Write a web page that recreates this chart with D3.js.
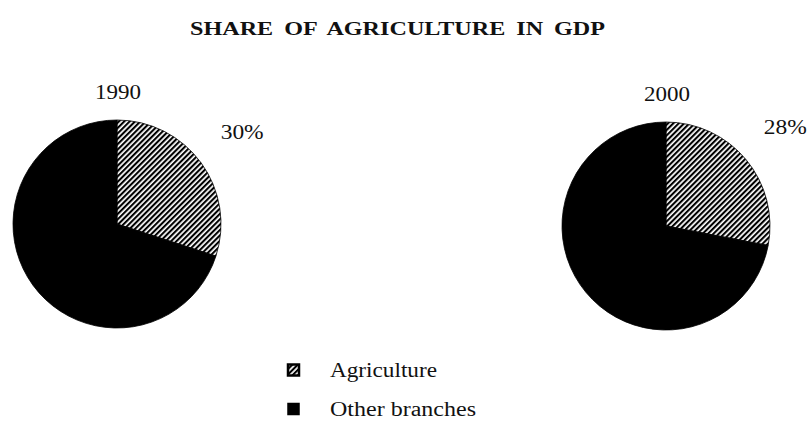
<!DOCTYPE html>
<html>
<head>
<meta charset="utf-8">
<script src="https://cdn.jsdelivr.net/npm/d3@7"></script>
<style>
  body { margin: 0; background: #fff; }
  text { font-family: "Liberation Serif", "DejaVu Serif", serif; fill: #111; }
</style>
</head>
<body>
<svg id="chart" width="807" height="421"></svg>
<script>
'use strict';

// chart data
const years = ["1990", "2000"];
const agricultureShare = [30, 28];
const otherShare = [70, 72];
const categories = ["Agriculture", "Other branches"];
const chartTitle = "SHARE OF AGRICULTURE IN GDP";

const svg = d3.select("#chart");

// hatch pattern for agriculture slices
const defs = svg.append("defs");
const hatch = defs.append("pattern")
    .attr("id", "hatch")
    .attr("patternUnits", "userSpaceOnUse")
    .attr("width", 3.8)
    .attr("height", 3.8)
    .attr("patternTransform", "rotate(45)");
hatch.append("rect").attr("width", 3.8).attr("height", 3.8).attr("fill", "#fff");
hatch.append("rect").attr("width", 2.1).attr("height", 3.8).attr("fill", "#000");

const fills = ["url(#hatch)", "#000"];

// title
svg.append("text")
    .attr("x", 190)
    .attr("y", 35)
    .attr("font-size", 19.5)
    .attr("font-weight", "bold")
    .attr("word-spacing", 4)
    .attr("textLength", 415)
    .attr("lengthAdjust", "spacingAndGlyphs")
    .text(chartTitle);

// x position of each pie via a point scale
const xScale = d3.scalePoint()
    .domain(years)
    .range([117, 666]);

const radius = 104;
const pie = d3.pie().sort(null).value(d => d.value);
const arc = d3.arc().innerRadius(0).outerRadius(radius);
const labelArc = d3.arc().innerRadius(151).outerRadius(151);

years.forEach((year, i) => {
    const cx = xScale(year);
    const cy = 224 + i * 2;
    const slices = pie([
        { key: categories[0], value: agricultureShare[i] },
        { key: categories[1], value: otherShare[i] }
    ]);

    const g = svg.append("g").attr("transform", `translate(${cx},${cy})`);

    g.selectAll("path")
        .data(slices)
        .enter()
        .append("path")
        .attr("d", arc)
        .attr("fill", (d, j) => fills[j])
        .attr("stroke", "#000")
        .attr("stroke-width", 0.8);

    // year label above
    g.append("text")
        .attr("x", 1)
        .attr("y", -radius - 21)
        .attr("text-anchor", "middle")
        .attr("font-size", 20)
        .attr("textLength", 46)
        .attr("lengthAdjust", "spacingAndGlyphs")
        .text(year);

    // percentage label for agriculture slice
    const c = labelArc.centroid(slices[0]);
    g.append("text")
        .attr("x", c[0] + 3)
        .attr("y", c[1] + 4)
        .attr("text-anchor", "middle")
        .attr("font-size", 20)
        .attr("textLength", 43)
        .attr("lengthAdjust", "spacingAndGlyphs")
        .text(agricultureShare[i] + "%");
});

// legend
const legendY = d3.scalePoint()
    .domain(categories)
    .range([370, 409]);
const legendTextWidth = d3.scaleOrdinal()
    .domain(categories)
    .range([107, 146]);

const legend = svg.append("g");
categories.forEach((cat, j) => {
    const y = legendY(cat);
    legend.append("rect")
        .attr("x", 288)
        .attr("y", y - 5.5)
        .attr("width", 11)
        .attr("height", 11)
        .attr("fill", fills[j])
        .attr("stroke", "#000")
        .attr("stroke-width", j === 0 ? 2.5 : 1.5);
    legend.append("text")
        .attr("x", 330)
        .attr("y", y + 7)
        .attr("font-size", 20)
        .attr("textLength", legendTextWidth(cat))
        .attr("lengthAdjust", "spacingAndGlyphs")
        .text(cat);
});
</script>
</body>
</html>
